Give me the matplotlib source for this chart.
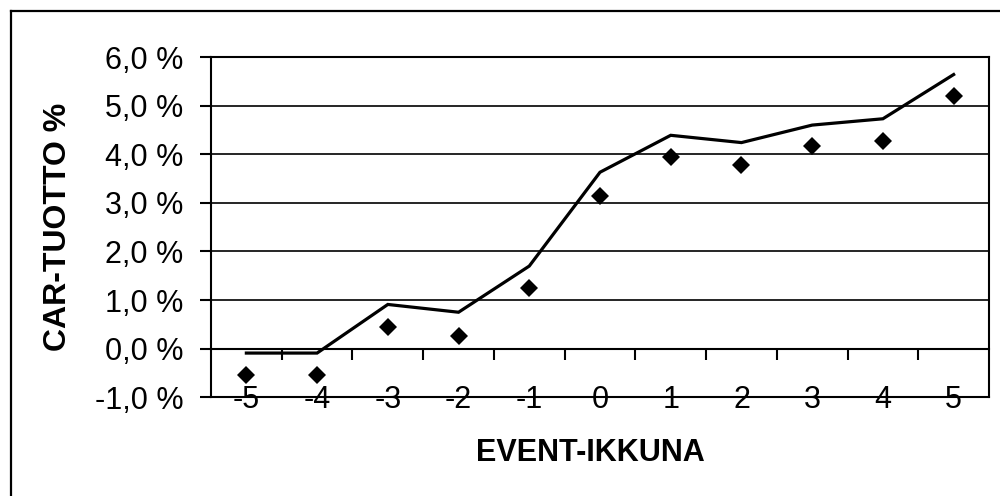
import numpy as np
import matplotlib.pyplot as plt
import matplotlib.transforms as mtransforms
from matplotlib.lines import Line2D

plt.switch_backend('agg')
plt.rcParams['font.family'] = ['Liberation Sans', 'DejaVu Sans']

# event window days and cumulative abnormal returns (%)
event_days = [-5, -4, -3, -2, -1, 0, 1, 2, 3, 4, 5]
car_line = [-0.09, -0.09, 0.91, 0.75, 1.70, 3.63, 4.39, 4.24, 4.60, 4.73, 5.64]
car_points = [-0.54, -0.54, 0.44, 0.27, 1.25, 3.15, 3.94, 3.78, 4.16, 4.27, 5.19]
y_ticks = [-1, 0, 1, 2, 3, 4, 5, 6]

fig = plt.figure(figsize=(10, 4.96), dpi=100)
ax = fig.add_axes([0.211, 0.199, 0.778, 0.686])

# chart area frame (left and top edges)
fig.add_artist(Line2D([0.011, 0.011], [0, 1 - 11/496], transform=fig.transFigure,
                      color='black', lw=1.6))
fig.add_artist(Line2D([0.011, 1], [1 - 11/496, 1 - 11/496], transform=fig.transFigure,
                      color='black', lw=1.6))

x = np.arange(len(event_days))
ax.plot(x, car_line, color='black', lw=2.3, solid_joinstyle='miter', zorder=3)
ax.plot(x, car_points, ls='none', marker='D', ms=9, color='black', mew=0, zorder=4)

ax.set_xlim(-0.5, len(event_days) - 0.5)
ax.set_ylim(-1, 6)

for v in y_ticks[1:-1]:
    ax.axhline(v, color='black', lw=1.2, zorder=1)
ax.axhline(-1, color='black', lw=1.5, clip_on=False, zorder=2)

# category axis crosses at zero, ticks between categories
ax.spines['bottom'].set_position(('data', 0))
for side in ['bottom', 'left', 'top', 'right']:
    ax.spines[side].set_linewidth(1.5)
ax.set_xticks(x[:-1] + 0.5)
ax.tick_params(axis='x', direction='out', length=8, width=1.5, labelbottom=False)

# category labels sit on the bottom edge of the plot area
lab_trans = ax.transData + mtransforms.ScaledTranslation(0, -7.7/72, fig.dpi_scale_trans)
for xi, lab in zip(x, event_days):
    ax.text(xi, -1, str(lab), ha='center', va='baseline', fontsize=22,
            transform=lab_trans, clip_on=False, zorder=5)

ax.set_yticks(y_ticks)
ax.set_yticklabels([f'{v:.1f}'.replace('.', ',') + ' %' for v in y_ticks])
ax.tick_params(axis='y', direction='out', length=8, width=1.5, labelsize=22, pad=12)

fig.text(0.058, 0.542, 'CAR-TUOTTO %', rotation=90, ha='center', va='center',
         fontsize=23, fontweight='bold')
fig.text(0.59, 1 - 453/496, 'EVENT-IKKUNA', ha='center', va='center',
         fontsize=22, fontweight='bold')

plt.savefig('out.png', dpi=100)
plt.close()
